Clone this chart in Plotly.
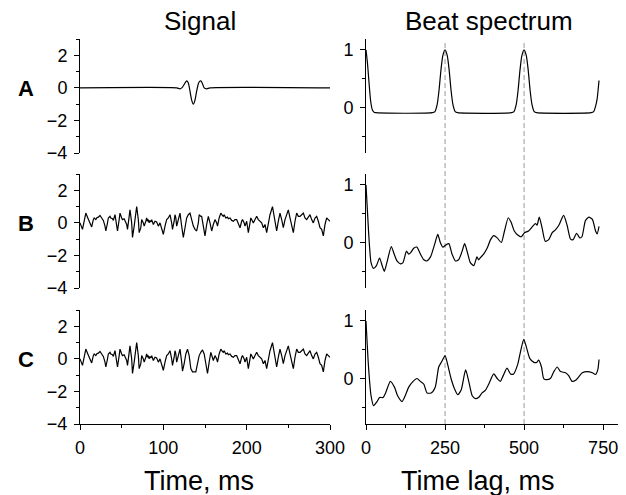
import plotly.graph_objects as go

W, H = 626, 495
FONT = "Arial, Liberation Sans, sans-serif"

# ---------------- data ----------------
# Signal A: single pulse (ms, amplitude)
pulse_t = [0, 116, 120, 123, 126, 128, 130, 132, 134, 136, 138, 140, 142, 143.5, 145, 147, 149, 152, 156, 300]
pulse_y = [0, 0, -0.06, 0.05, 0.3, 0.43, 0.3, -0.2, -0.75, -1.0, -0.75, -0.2, 0.25, 0.4, 0.43, 0.25, 0.0, -0.06, 0, 0]

# Signal B: noise
noise_t = [0, 2, 3, 5, 7, 9, 10, 12, 14, 16, 17, 19, 20, 22, 24, 26, 28, 30, 31, 33, 34, 36, 37, 39, 40,
           42, 43, 45, 47, 48, 50, 51, 53, 54, 56, 57, 59, 60, 62, 63, 65, 67, 68, 70, 71, 73, 74, 76, 77,
           79, 80, 81, 82, 83, 84, 85, 86, 88, 90, 92, 94, 96, 98, 100, 102, 104, 106, 108, 110, 111, 113,
           114, 115, 116, 118, 120, 122, 124, 126, 128, 130, 132, 134, 136, 138, 140, 142, 143, 145, 146,
           148, 150, 152, 154, 156, 158, 160, 162, 164, 165, 167, 169, 171, 172, 173, 175, 177, 178, 180,
           182, 184, 186, 188, 190, 192, 194, 195, 197, 198, 200, 202, 204, 205, 207, 208, 210, 212, 214,
           216, 218, 220, 222, 224, 226, 228, 231, 233, 236, 238, 240, 242, 244, 246, 248, 250, 252, 254,
           256, 258, 260, 262, 264, 266, 268, 270, 272, 274, 276, 278, 280, 282, 284, 286, 288, 290, 292,
           294, 296, 298, 300]
noise_b = [0.0, -0.3, -0.4, 0.1, 0.6, 0.35, 0.25, 0.0, -0.25, 0.2, 0.3, 0.2, 0.3, 0.35, 0.45, 0.3, 0.15, -0.2, -0.5, 0.0, 0.3, 0.4, 0.3, 0.25, 0.15,
           0.5, 0.2, -0.5, 0.2, 0.6, 0.3, 0.2, 0.25, 0.15, -0.1, -0.4, 0.3, 0.8, 0.0, -0.9, -0.2, 0.6, 1.0, 0.2, -0.6, -0.3, 0.2, 0.0, -0.2,
           0.1, 0.3, 0.1, 0.2, 0.0, 0.15, 0.05, 0.2, -0.1, 0.1, 0.05, -0.2, 0.0, -0.4, -0.7, -0.2, 0.2, 0.3, 0.5, 0.0, -0.4, 0.1,
           0.5, 0.3, -0.2, 0.2, 0.6, -0.2, -0.9, -0.3, 0.3, 0.5, 0.6, 0.2, -0.2, -0.4, -0.5, 0.0, 0.5, 0.4, 0.4,
           -0.2, -0.8, -0.1, 0.4, 0.0, -0.5, -0.1, 0.2, 0.0, -0.2, 0.3, 0.6, 0.45, 0.4, 0.5, 0.3, 0.35, 0.25, 0.3,
           0.15, 0.1, 0.2, 0.2, 0.0, -0.3, 0.1, 0.2, 0.0, -0.2, 0.1, -0.6, 0.0, 0.3, 0.1, 0.0, 0.2, 0.4, 0.2,
           0.1, 0.0, -0.3, -0.1, -0.6, -0.1, 0.5, 1.0, 0.3, -0.5, 0.1, 0.6, 0.2, -0.3, 0.2, 0.5, 0.8, 0.3, -0.2,
           -0.6, 0.1, 0.6, 0.4, 0.4, 0.5, 0.6, 0.3, 0.2, 0.35, 0.5, 0.2, 0.0, 0.3, 0.4, 0.1, -0.3, -0.4, -0.8,
           -0.1, 0.3, 0.2, 0.1]

# Signal C: noise + pulse
mixed_t = [0, 2, 3, 5, 7, 9, 10, 12, 14, 16, 17, 19, 20, 22, 24, 26, 28, 30, 31, 33, 34, 36, 37, 39, 40,
           42, 43, 45, 47, 48, 50, 51, 53, 54, 56, 57, 59, 60, 62, 63, 65, 67, 68, 70, 71, 73, 74, 76, 77,
           79, 80, 81, 82, 83, 84, 85, 86, 88, 90, 92, 94, 96, 98, 100, 102, 104, 106, 108, 110, 111, 113,
           114, 115, 116, 118, 120, 122, 123, 125, 127, 129, 131, 133, 135, 137, 139, 141, 143, 145, 147,
           149, 151, 153, 155, 157, 160, 162, 164, 165, 167, 169, 171, 172, 173, 175, 177, 178, 180,
           182, 184, 186, 188, 190, 192, 194, 195, 197, 198, 200, 202, 204, 205, 207, 208, 210, 212, 214,
           216, 218, 220, 222, 224, 226, 228, 231, 233, 236, 238, 240, 242, 244, 246, 248, 250, 252, 254,
           256, 258, 260, 262, 264, 266, 268, 270, 272, 274, 276, 278, 280, 282, 284, 286, 288, 290, 292,
           294, 296, 298, 300]
mixed_c = [0.0, -0.3, -0.4, 0.1, 0.6, 0.35, 0.25, 0.0, -0.25, 0.2, 0.3, 0.2, 0.3, 0.35, 0.45, 0.3, 0.15, -0.2, -0.5, 0.0, 0.3, 0.4, 0.3, 0.25, 0.15,
           0.5, 0.2, -0.5, 0.2, 0.6, 0.3, 0.2, 0.25, 0.15, -0.1, -0.4, 0.3, 0.8, 0.0, -0.9, -0.2, 0.6, 1.0, 0.2, -0.6, -0.3, 0.2, 0.0, -0.2,
           0.1, 0.3, 0.1, 0.2, 0.0, 0.15, 0.05, 0.2, -0.1, 0.1, 0.05, -0.2, 0.0, -0.4, -0.7, -0.2, 0.2, 0.3, 0.5, 0.0, -0.4, 0.1,
           0.5, 0.3, -0.2, 0.2, 0.6, -0.2, -0.75, -0.3, 0.3, 0.6, 0.2, -0.6, -0.8, -0.8, -0.8, -0.3, 0.2, 0.4, 0.55,
           0.3, -0.4, -0.9, -0.2, 0.4, -0.1, 0.2, 0.0, -0.2, 0.3, 0.6, 0.45, 0.4, 0.5, 0.3, 0.35, 0.25, 0.3,
           0.15, 0.1, 0.2, 0.2, 0.0, -0.3, 0.1, 0.2, 0.0, -0.2, 0.1, -0.6, 0.0, 0.3, 0.1, 0.0, 0.2, 0.4, 0.2,
           0.1, 0.0, -0.3, -0.1, -0.6, -0.1, 0.5, 1.0, 0.3, -0.5, 0.1, 0.6, 0.2, -0.3, 0.2, 0.5, 0.8, 0.3, -0.2,
           -0.6, 0.1, 0.6, 0.4, 0.4, 0.5, 0.6, 0.3, 0.2, 0.35, 0.5, 0.2, 0.0, 0.3, 0.4, 0.1, -0.3, -0.4, -0.8,
           -0.1, 0.3, 0.2, 0.1]

# Beat spectrum A
beat_a_lag = [0, 5, 10, 15, 20, 25, 30, 210, 218, 225, 231, 237, 243, 250, 257, 263, 269, 275, 282, 290,
              460, 468, 475, 481, 487, 493, 500, 507, 513, 519, 525, 532, 540, 712, 720, 726, 731, 734, 737]
beat_a_val = [1.0, 0.75, 0.4, 0.1, -0.04, -0.08, -0.09, -0.09, -0.07, 0.05, 0.3, 0.65, 0.9, 1.0, 0.9, 0.65, 0.3, 0.05, -0.07, -0.09,
              -0.09, -0.07, 0.05, 0.3, 0.65, 0.9, 1.0, 0.9, 0.65, 0.3, 0.05, -0.07, -0.09, -0.09, -0.07, 0.02, 0.15, 0.3, 0.47]

# Beat spectrum B
beat_b_lag = [0, 8, 16, 24, 33, 43, 51, 58, 66, 80, 89, 98, 109, 117, 128, 135, 142, 151, 161, 172, 183, 193,
              204, 216, 227, 235, 243, 251, 262, 272, 283, 293, 304, 312, 322, 330, 341, 351, 356, 364, 372,
              383, 394, 404, 415, 428, 438, 450, 459, 469, 480, 491, 501, 514, 527, 536, 541, 548, 557, 567,
              578, 589, 599, 610, 625, 636, 647, 655, 666, 676, 683, 694, 705, 716, 726, 731, 737]
beat_b_val = [1.0, 0.2, -0.35, -0.45, -0.4, -0.27, -0.4, -0.5, -0.35, -0.07, -0.2, -0.32, -0.37, -0.35, -0.15, -0.2, -0.17, -0.1, -0.08, -0.2, -0.3, -0.32,
              -0.25, -0.05, 0.14, 0.0, -0.08, -0.05, -0.02, -0.2, -0.32, -0.3, -0.15, -0.02, -0.2, -0.35, -0.4, -0.25, -0.3, -0.25, -0.2,
              -0.1, 0.05, 0.12, 0.08, 0.0, 0.2, 0.43, 0.35, 0.2, 0.13, 0.1, 0.17, 0.2, 0.28, 0.33, 0.3, 0.44, 0.25, 0.02,
              0.05, 0.17, 0.22, 0.3, 0.47, 0.3, 0.06, 0.05, 0.16, 0.08, 0.1, 0.38, 0.44, 0.4, 0.2, 0.15, 0.28]

# Beat spectrum C
beat_c_lag = [0, 8, 16, 24, 35, 43, 54, 62, 77, 90, 100, 114, 124, 135, 149, 161, 172, 183, 193, 206, 219,
              230, 240, 250, 258, 269, 280, 290, 301, 315, 325, 336, 346, 356, 367, 378, 388, 404, 415, 425,
              434, 446, 457, 467, 480, 488, 499, 507, 518, 531, 540, 546, 555, 562, 571, 583, 594, 605, 615,
              631, 641, 652, 663, 673, 684, 700, 716, 726, 733, 737]
beat_c_val = [1.0, 0.2, -0.3, -0.47, -0.4, -0.33, -0.33, -0.25, -0.05, -0.15, -0.3, -0.4, -0.3, -0.15, -0.05, 0.0, -0.05, -0.1, -0.25, -0.25, -0.15,
              0.2, 0.3, 0.4, 0.25, 0.0, -0.18, -0.28, -0.2, 0.15, -0.05, -0.3, -0.35, -0.33, -0.25, -0.2, -0.1, 0.08, 0.0, -0.05,
              0.05, 0.18, 0.08, 0.08, 0.25, 0.45, 0.68, 0.55, 0.35, 0.28, 0.28, 0.32, 0.2, 0.0, -0.02, 0.0, 0.12, 0.2, 0.12,
              0.1, 0.05, -0.05, -0.03, 0.03, 0.1, 0.12, 0.1, 0.07, 0.15, 0.33]

row_labels = ["A", "B", "C"]
col_titles = ["Signal", "Beat spectrum"]
x_titles = ["Time, ms", "Time lag, ms"]
beat_marks = [250, 500]

# ---------------- layout helpers ----------------
def px_x(p):
    return p / W

def px_y(p):
    return 1 - p / H

left_dom = [px_x(80), px_x(330)]
right_dom = [px_x(366), px_x(618)]
row_px = [(39, 153), (174, 288), (310, 424)]
row_dom = [[px_y(b), px_y(t)] for (t, b) in row_px]
row_zero_px = [88, 223, 359]

fig = go.Figure()

left_series = [(pulse_t, pulse_y, "spline"), (noise_t, noise_b, "linear"), (mixed_t, mixed_c, "linear")]
right_series = [(beat_a_lag, beat_a_val, "spline"), (beat_b_lag, beat_b_val, "spline"), (beat_c_lag, beat_c_val, "spline")]

layout = dict(
    template="none",
    width=W, height=H, autosize=False,
    margin=dict(l=0, r=0, t=0, b=0, pad=0),
    paper_bgcolor="white", plot_bgcolor="white",
    showlegend=False,
    font=dict(family=FONT, color="black", size=18),
)

axis_font = dict(family=FONT, size=18, color="black")

for r in range(3):
    li = 2 * r + 1
    ri = 2 * r + 2
    for idx, (xs, ys, shape) in zip([li, ri], [left_series[r], right_series[r]]):
        fig.add_trace(go.Scatter(
            x=xs, y=ys, mode="lines",
            line=dict(color="black", width=1.2, shape=shape, smoothing=0.6),
            xaxis="x" if idx == 1 else f"x{idx}",
            yaxis="y" if idx == 1 else f"y{idx}",
            hoverinfo="skip",
        ))
    bottom = (r == 2)
    for idx, dom, rng, dt, mdt in [(li, left_dom, [0, 300], 100, 50), (ri, right_dom, [0, 797], 250, 125)]:
        xname = "xaxis" if idx == 1 else f"xaxis{idx}"
        yname = "yaxis" if idx == 1 else f"yaxis{idx}"
        layout[xname] = dict(
            domain=dom, range=rng, anchor="y" if idx == 1 else f"y{idx}",
            automargin=False,
            showgrid=False, zeroline=False, visible=bottom,
            showline=bottom, linecolor="black", linewidth=1,
            ticks="outside" if bottom else "", ticklen=5, tickwidth=1, tickcolor="black",
            tickmode="linear", tick0=0, dtick=dt,
            minor=dict(ticks="outside" if bottom else "", ticklen=3, tickmode="linear", tick0=0, dtick=mdt, tickcolor="black", showgrid=False),
            showticklabels=bottom, tickfont=axis_font, ticklabelstandoff=2,
            fixedrange=True,
        )
        if idx % 2 == 1:
            yr, ydt, ymdt = [-4, 3], 2, 1
        else:
            yr, ydt, ymdt = [-0.79, 1.19], 1, 0.5
        layout[yname] = dict(
            domain=row_dom[r], range=yr, anchor="x" if idx == 1 else f"x{idx}",
            automargin=False,
            showgrid=False, zeroline=False,
            showline=True, linecolor="black", linewidth=1,
            ticks="outside", ticklen=5, tickwidth=1, tickcolor="black",
            tickmode="linear", tick0=0, dtick=ydt,
            minor=dict(ticks="outside", ticklen=3, tickmode="linear", tick0=0, dtick=ymdt, tickcolor="black", showgrid=False),
            tickfont=axis_font, ticklabelstandoff=3,
            fixedrange=True,
        )

shapes = []
for m in beat_marks:
    shapes.append(dict(type="line", xref="x2", yref="paper", x0=m, x1=m,
                       y0=px_y(424), y1=px_y(41),
                       line=dict(color="#999999", width=1, dash="5px,3px"), layer="below"))
layout["shapes"] = shapes

ann = []
for lab, yp in zip(row_labels, row_zero_px):
    ann.append(dict(text=f"<b>{lab}</b>", x=px_x(26), y=px_y(yp), xref="paper", yref="paper",
                    showarrow=False, xanchor="center", yanchor="middle", font=dict(family=FONT, size=22, color="black")))
for t, xp in zip(col_titles, [200, 489]):
    ann.append(dict(text=t, x=px_x(xp), y=px_y(21), xref="paper", yref="paper",
                    showarrow=False, xanchor="center", yanchor="middle", font=dict(family=FONT, size=26, color="black")))
for t, xp in zip(x_titles, [199, 478]):
    ann.append(dict(text=t, x=px_x(xp), y=px_y(481), xref="paper", yref="paper",
                    showarrow=False, xanchor="center", yanchor="middle", font=dict(family=FONT, size=27, color="black")))
layout["annotations"] = ann

fig.update_layout(**layout)
# the page's default body margin would shift the fixed-size figure; remove it
fig.write_html("out.html", config={"displayModeBar": False},
               post_script="document.body.style.margin='0';document.body.style.padding='0';document.body.style.overflow='hidden';")
